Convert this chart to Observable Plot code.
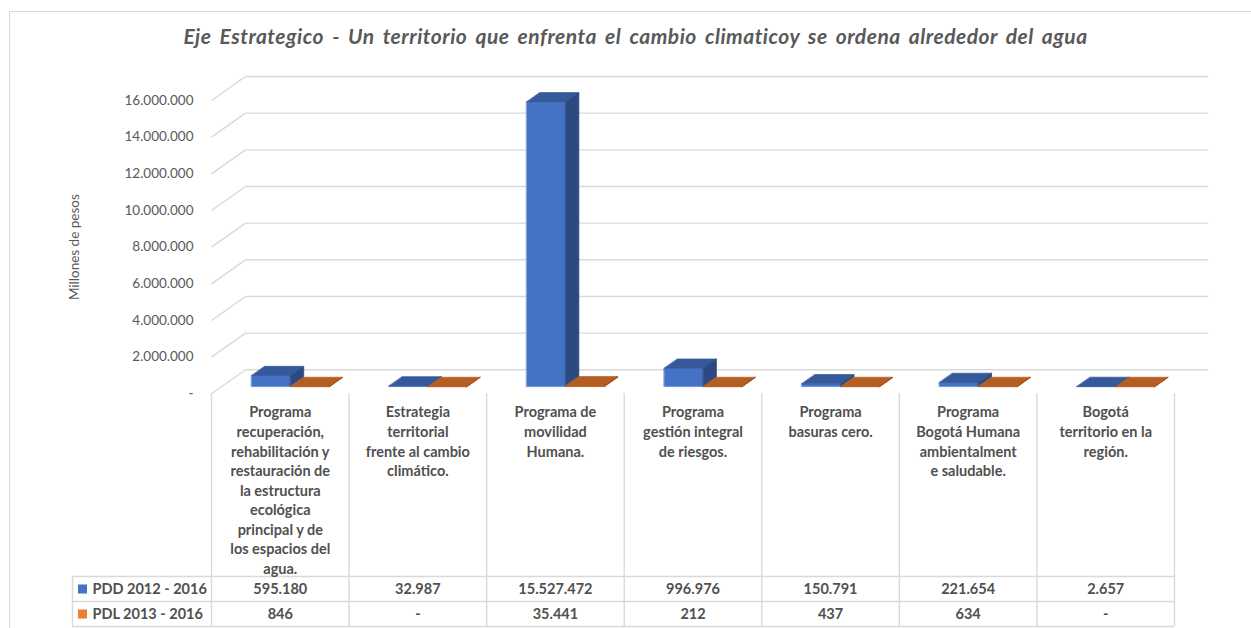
<!DOCTYPE html>
<html><head><meta charset="utf-8">
<script src="https://cdn.jsdelivr.net/npm/d3@7"></script>
<script src="https://cdn.jsdelivr.net/npm/@observablehq/plot@0.6"></script>
<style>
html,body{margin:0;padding:0;background:#fff;}
#wrap{position:relative;width:1251px;height:628px;overflow:hidden;font-family:Lato,"Open Sans",sans-serif;}
#border{position:absolute;left:9px;top:11px;width:1400px;height:900px;border-left:1.5px solid #d9d9d9;border-top:1.5px solid #d9d9d9;}
#title{position:absolute;left:10px;top:25px;width:1251px;text-align:center;font-size:21px;line-height:22px;font-weight:bold;font-style:italic;color:#595959;white-space:nowrap;letter-spacing:0.5px;word-spacing:3px;}
#chart{position:absolute;left:0;top:52px;}
#table{position:absolute;left:0;top:393px;}
svg{overflow:visible;background:transparent;}
</style></head>
<body><div id="wrap"><div id="border"></div>
<div id="title">Eje Estrategico - Un territorio que enfrenta el cambio climaticoy se ordena alrededor del agua</div>
<div id="chart"></div><div id="table"></div></div>
<script>
// ---- data ----
const categories = [
  "Programa recuperación, rehabilitación y restauración de la estructura ecológica principal y de los espacios del agua.",
  "Estrategia territorial frente al cambio climático.",
  "Programa de movilidad Humana.",
  "Programa gestión integral de riesgos.",
  "Programa basuras cero.",
  "Programa Bogotá Humana ambientalmente saludable.",
  "Bogotá territorio en la región."
];
const categoryLabels = [
  "Programa\nrecuperación,\nrehabilitación y\nrestauración de\nla estructura\necológica\nprincipal y de\nlos espacios del\nagua.",
  "Estrategia\nterritorial\nfrente al cambio\nclimático.",
  "Programa de\nmovilidad\nHumana.",
  "Programa\ngestión integral\nde riesgos.",
  "Programa\nbasuras cero.",
  "Programa\nBogotá Humana\nambientalment\ne saludable.",
  "Bogotá\nterritorio en la\nregión."
];
const seriesNames = ["PDD 2012 - 2016", "PDL 2013 - 2016"];
const pdd = [595180, 32987, 15527472, 996976, 150791, 221654, 2657];
const pdl = [846, 0, 35441, 212, 437, 634, 0];
const yTicks = [0, 2000000, 4000000, 6000000, 8000000, 10000000, 12000000, 14000000, 16000000];
const yLabel = "Millones de pesos";

// ---- style / layout ----
const W = 1251, ML = 211, MR = 77;
const CH = 346, CMT = 48, CMB = 4.7;
const PX_X = (W - ML - MR) / categories.length;
const PX_Y = (CH - CMT - CMB) / 16000000;
const WALL_DX = 34 / PX_X, WALL_DY = 24 / PX_Y;
const F0 = 0.30, F1 = 0.69, BAR_W = 39 / PX_X;
const grid = "#d9d9d9";
const faces = [
  {front: "#4472C4", top: "#35599A", side: "#2C4A7F", edge: "#5A86D0"},
  {front: "#ED7D31", top: "#B55E22", side: "#9A4E1A", edge: "#B55E22"}
];
const legendColors = ["#4472C4", "#ED7D31"];
const locale = d3.formatLocale({decimal: ",", thousands: ".", grouping: [3], currency: ["$", ""]});
const fmtInt = locale.format(",d");
const fmtNum = v => (v === 0 || v == null) ? "-" : fmtInt(v);

const pt = (x, v, t) => ({x: x + t * WALL_DX, y: v + t * WALL_DY});

const barMarks = [];
categories.forEach((c, i) => {
  [pdd, pdl].forEach((vals, s) => {
    const v = vals[i];
    const x0 = i + 0.5 - (s === 0 ? BAR_W : 0), x1 = x0 + BAR_W;
    const polys = [
      [[pt(x0, 0, F0), pt(x1, 0, F0), pt(x1, v, F0), pt(x0, v, F0)], faces[s].front, faces[s].edge],
      [[pt(x0, v, F0), pt(x1, v, F0), pt(x1, v, F1), pt(x0, v, F1)], faces[s].top, faces[s].top],
      [[pt(x1, 0, F0), pt(x1, 0, F1), pt(x1, v, F1), pt(x1, v, F0)], faces[s].side, faces[s].side]
    ];
    for (const [p, col, edge] of polys) {
      barMarks.push(Plot.line(p, {x: "x", y: "y", fill: col, stroke: edge, strokeWidth: 0.7, curve: "linear-closed"}));
    }
  });
});

const chart = Plot.plot({
  width: W, height: CH,
  marginLeft: ML, marginRight: MR, marginTop: CMT, marginBottom: CMB,
  style: {fontFamily: "Lato, 'Open Sans', sans-serif", background: "transparent", overflow: "visible"},
  x: {type: "linear", domain: [0, categories.length], axis: null},
  y: {type: "linear", domain: [0, 16000000], axis: null},
  marks: [
    Plot.link(yTicks, {x1: WALL_DX, x2: categories.length + WALL_DX, y1: d => d + WALL_DY, y2: d => d + WALL_DY, stroke: grid, strokeWidth: 1.4}),
    Plot.link(yTicks, {x1: 0, x2: WALL_DX, y1: d => d, y2: d => d + WALL_DY, stroke: grid, strokeWidth: 1.4}),
    ...barMarks,
    Plot.axisY(yTicks, {tickFormat: fmtNum, tickSize: 0, tickPadding: 18, fontSize: 13.5, fill: "#595959", label: null}),
    Plot.text([yLabel], {frameAnchor: "left", textAnchor: "middle", dx: -137, rotate: -90, fontSize: 13.5, fill: "#595959"})
  ]
});
document.getElementById("chart").append(chart);

// ---- data table ----
const TH = 235, HEADER_H = 183, ROW_H = 25, TBL_BOTTOM = HEADER_H + 2 * ROW_H;
const LEG_X = -139 / PX_X;
const rowY = r => HEADER_H + ROW_H * r + ROW_H / 2;
const tableText = {fontSize: 14.5, fontWeight: "bold", fill: "#505050"};
const table = Plot.plot({
  width: W, height: TH,
  marginLeft: ML, marginRight: MR, marginTop: 0, marginBottom: 0,
  style: {fontFamily: "Lato, 'Open Sans', sans-serif", background: "transparent", overflow: "visible"},
  x: {type: "linear", domain: [0, categories.length], axis: null},
  y: {type: "linear", domain: [0, TH], range: [0, TH], axis: null},
  marks: [
    Plot.ruleX(d3.range(categories.length + 1), {x: d => d, y1: 0, y2: TBL_BOTTOM, stroke: grid, strokeWidth: 1.4}),
    Plot.ruleX([LEG_X], {x: d => d, y1: HEADER_H, y2: TBL_BOTTOM, stroke: grid, strokeWidth: 1.4}),
    Plot.ruleY([HEADER_H, HEADER_H + ROW_H, TBL_BOTTOM], {y: d => d, x1: LEG_X, x2: categories.length, stroke: grid, strokeWidth: 1.4}),
    Plot.text(categoryLabels, {x: (d, i) => i + 0.5, y: 10, text: d => d, lineAnchor: "top", lineHeight: 1.35, ...tableText}),
    Plot.text(pdd, {x: (d, i) => i + 0.5, y: rowY(0), text: fmtNum, ...tableText}),
    Plot.text(pdl, {x: (d, i) => i + 0.5, y: rowY(1), text: fmtNum, ...tableText}),
    ...seriesNames.map((n, s) => Plot.dot([n], {x: LEG_X, y: rowY(s), dx: 10, symbol: "square", r: 5.1, fill: legendColors[s], stroke: null})),
    Plot.text(seriesNames, {x: LEG_X, y: (d, s) => rowY(s), dx: 20, textAnchor: "start", text: d => d, ...tableText})
  ]
});
document.getElementById("table").append(table);
</script></body></html>
